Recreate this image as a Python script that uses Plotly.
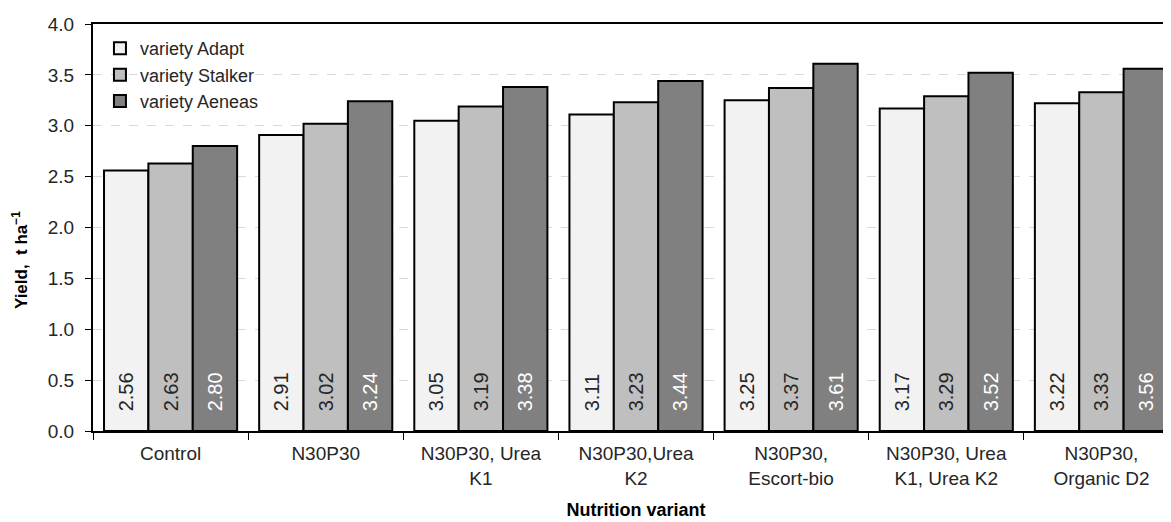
import plotly.graph_objects as go

categories = ["Control", "N30P30", "N30P30, Urea<br>K1", "N30P30,Urea<br>K2",
              "N30P30,<br>Escort-bio", "N30P30, Urea<br>K1, Urea K2", "N30P30,<br>Organic D2"]
adapt = [2.56, 2.91, 3.05, 3.11, 3.25, 3.17, 3.22]
stalker = [2.63, 3.02, 3.19, 3.23, 3.37, 3.29, 3.33]
aeneas = [2.80, 3.24, 3.38, 3.44, 3.61, 3.52, 3.56]
series_names = ["variety Adapt", "variety Stalker", "variety Aeneas"]
colors = ["#f2f2f2", "#bfbfbf", "#808080"]
text_colors = ["#262626", "#262626", "#ffffff"]
y_ticks = [0.0, 0.5, 1.0, 1.5, 2.0, 2.5, 3.0, 3.5, 4.0]

FONT = "Liberation Sans, Arial, sans-serif"
PAD = "\u00a0\u00a0\u00a0"

fig = go.Figure()
for name, vals, col, tcol in zip(series_names, [adapt, stalker, aeneas], colors, text_colors):
    fig.add_trace(go.Bar(
        x=categories, y=vals, name=name,
        marker=dict(color=col, line=dict(color="#000000", width=2)),
        text=[PAD + f"{v:.2f}" for v in vals],
        textposition="inside", insidetextanchor="start", textangle=-90,
        textfont=dict(family=FONT, size=20, color=tcol),
        cliponaxis=False,
    ))

fig.update_layout(
    width=1171, height=514,
    margin=dict(l=85, r=0, t=16, b=91),
    paper_bgcolor="white", plot_bgcolor="white",
    barmode="group", bargap=0.142, bargroupgap=0,
    font=dict(family=FONT, color="#262626"),
    showlegend=True,
    legend=dict(x=0.0064, y=0.985, xanchor="left", yanchor="top",
                bgcolor="rgba(0,0,0,0)", font=dict(size=18, color="#262626"),
                tracegroupgap=0),
    uniformtext=dict(mode=False),
    annotations=[dict(
        text="<b>Yield,  t ha<sup>−1</sup></b>", textangle=-90,
        xref="paper", yref="paper", x=0, y=0.42, xshift=-73,
        xanchor="center", yanchor="middle", showarrow=False,
        font=dict(family=FONT, size=17, color="#000000"),
    )],
)
fig.update_xaxes(
    type="category", showline=True, linecolor="#000000", linewidth=2, mirror=True,
    ticks="outside", tickson="boundaries", ticklen=7, tickcolor="#000000", tickwidth=1,
    ticklabelstandoff=4,
    tickfont=dict(size=19, color="#262626"),
    title=dict(text="<b>Nutrition variant</b>", font=dict(size=18, color="#000000"), standoff=16),
    showgrid=False, automargin=False,
)
fig.update_yaxes(
    range=[0, 4.0], tickvals=y_ticks, ticktext=[f"{t:.1f}" for t in y_ticks],
    showline=True, linecolor="#000000", linewidth=2,
    ticks="outside", ticklen=6, tickcolor="#000000", tickwidth=1,
    ticklabelstandoff=7,
    tickfont=dict(size=19, color="#262626"),
    showgrid=True, gridcolor="#d9d9d9", griddash="dash", gridwidth=1,
    zeroline=False, automargin=False,
)

fig.write_html("out.html")
